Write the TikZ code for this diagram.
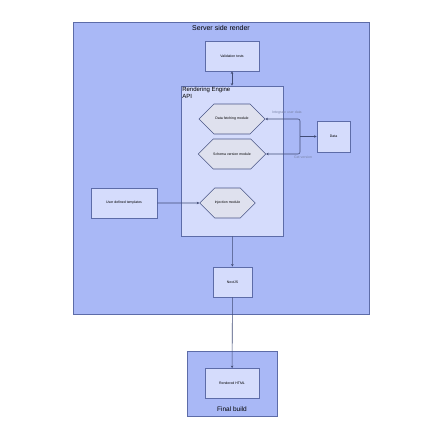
\documentclass[tikz,border=0pt]{standalone}
\usepackage{fontspec}
\setmainfont{Liberation Sans}
\usepackage{xcolor}
\usetikzlibrary{arrows.meta,shapes.symbols}

\definecolor{outerfill}{HTML}{A9B8F6}
\definecolor{outerline}{HTML}{5D6CA8}
\definecolor{boxfill}{HTML}{D5DCFC}
\definecolor{hexfill}{HTML}{DFE1EE}
\definecolor{lbl}{HTML}{7A84A8}

\begin{document}
\begin{tikzpicture}[x=1pt,y=-1pt,
  group/.style={draw=outerline,fill=outerfill,line width=0.6pt},
  block/.style={draw=outerline,fill=boxfill,line width=0.8pt,minimum width=#1,
                minimum height=30pt,align=center,inner sep=0pt,
                font=\fontsize{3.5}{4}\selectfont},
  block/.default=54pt,
  hexa/.style={shape=signal,signal to=east and west,signal pointer angle=90,
               draw=outerline!80!black,fill=hexfill,line width=0.6pt,
               minimum width=#1,minimum height=30pt,inner sep=0pt,
               font=\fontsize{3.5}{4}\selectfont},
  hexa/.default=66pt,
  arr/.style={-{Stealth[length=2.5pt,width=2.5pt]},draw=outerline!70!black,line width=0.6pt},
  elbl/.style={text=lbl,font=\fontsize{3.5}{4}\selectfont,inner sep=0pt}]
  \useasboundingbox (0,0) rectangle (442,440);
  % server side render group
  \node[group,minimum width=296pt,minimum height=292pt,inner sep=0pt](S) at (221,168) {};
  \node[font=\fontsize{7}{8}\selectfont](St) at (221,28) {Server side render};
  \node[block](V) at (232,56) {Validation tests};
  \node[block,minimum width=102pt,minimum height=150pt](R) at (232,161) {};
  \node[anchor=north west,align=left,inner sep=1.5pt,font=\fontsize{6}{6.5}\selectfont](Rt)
    at (R.north west) {Rendering Engine\\ API};
  \node[hexa](DF) at (232,119) {Data fetching module};
  \node[hexa](SV) at (232,154) {Schema version module};
  \node[hexa=55pt](IM) at (227.5,203) {Injection module};
  \node[block=33pt,minimum height=31pt](D) at (333.5,136.5) {Data};
  \node[block=66pt](U) at (124,203) {User defined templates};
  \node[block=39pt](N) at (232.5,282) {NextJS};
  % final build group
  \node[group,minimum width=90pt,minimum height=65pt,inner sep=0pt](F) at (232,383.5) {};
  \node[font=\fontsize{6.5}{7.5}\selectfont](Ft) at (232,409) {Final build};
  \node[block](H) at (232,383.5) {Rendered HTML};
  % connectors
  \coordinate (J) at (300,136.5);
  \draw[arr,{Stealth[length=2.5pt,width=2.5pt]}-{Stealth[length=2.5pt,width=2.5pt]}](V)--(R);
  \draw[arr,rounded corners=2pt](J)|-(DF.east);
  \draw[arr,rounded corners=2pt](J)|-(SV.east);
  \draw[arr](J)--(D.west);
  \node[elbl](L1) at (287,113) {Integrate user data};
  \node[elbl](L2) at (303,157.5) {Get version};
  \draw[arr](U)--(IM);
  \draw[arr](R)--(N);
  \draw[arr](N)--(H);
\end{tikzpicture}
\end{document}
